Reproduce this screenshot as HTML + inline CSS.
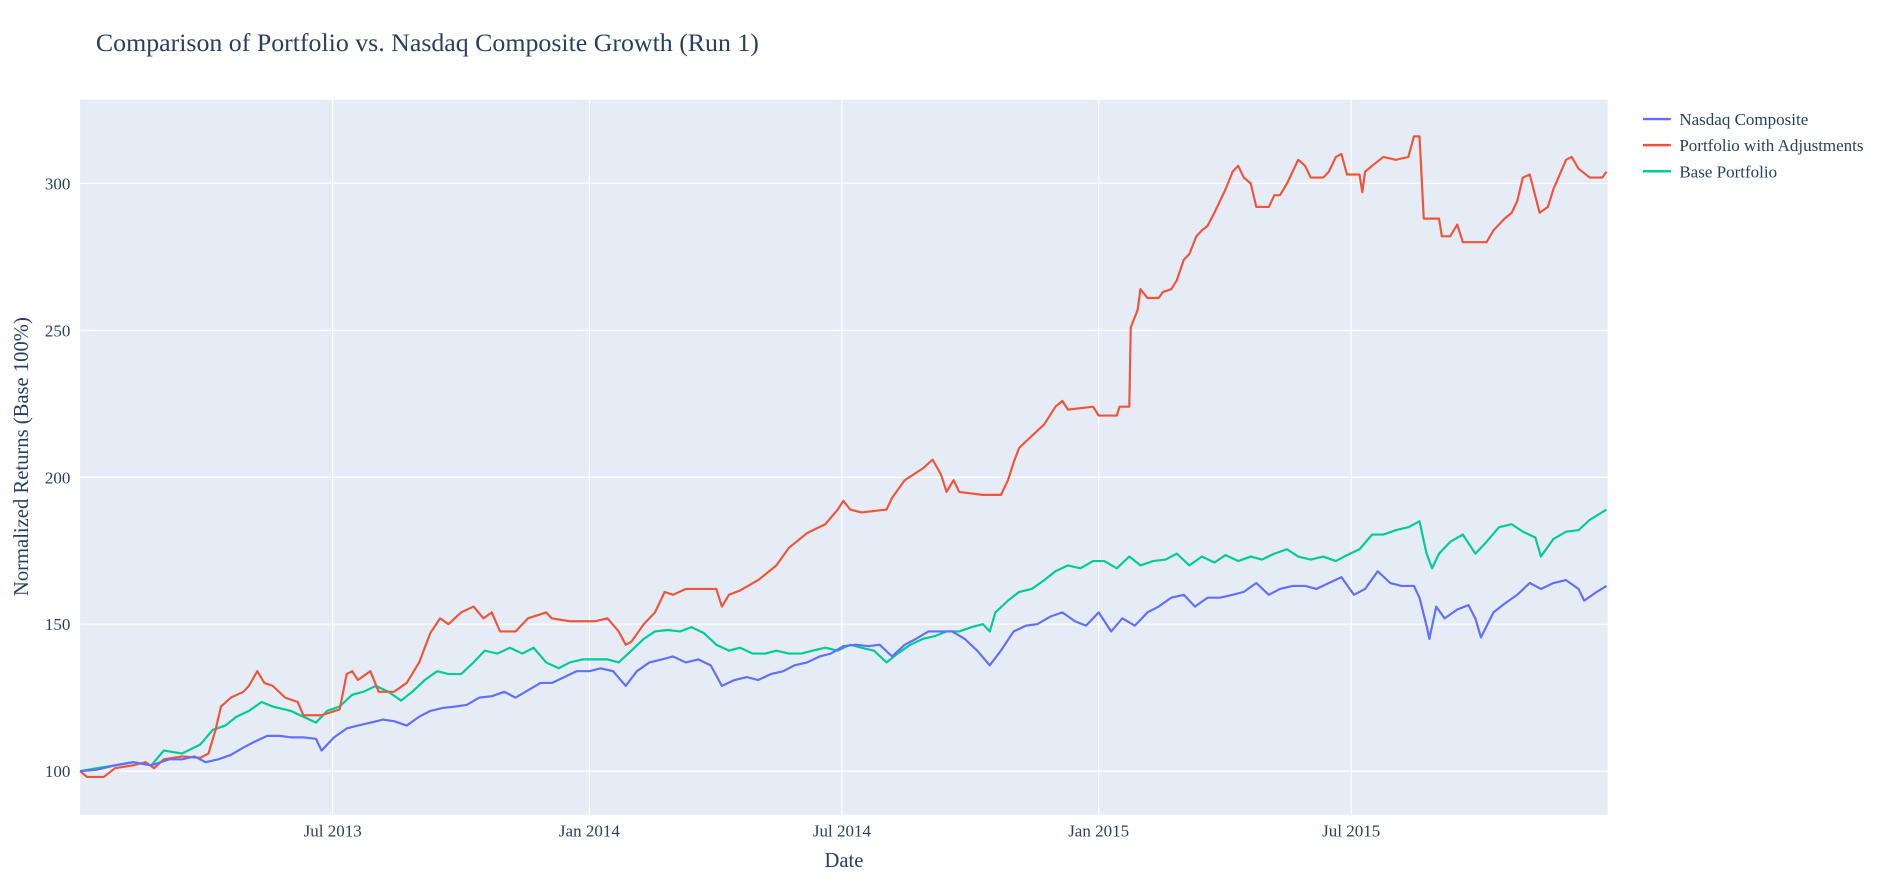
<!DOCTYPE html>
<html><head><meta charset="utf-8"><style>
html,body{margin:0;padding:0;background:#fff;}
svg{display:block;}
text{font-family:"Liberation Serif",serif;fill:#2a3f5f;}
</style></head><body>
<svg id="chart" width="1904" height="895" viewBox="0 0 1568 737" xmlns="http://www.w3.org/2000/svg">
<text x="79" y="42" font-size="21" textLength="546" lengthAdjust="spacingAndGlyphs">Comparison of Portfolio vs. Nasdaq Composite Growth (Run 1)</text>
<rect x="66" y="82" width="1258" height="589" fill="#e5ecf6"/>
<g id="grid"></g>
<g id="lines"></g>
<g id="ticks"></g>
<text x="695" y="714" font-size="17" text-anchor="middle">Date</text>
<text transform="translate(23,376) rotate(-90)" font-size="17" text-anchor="middle">Normalized Returns (Base 100%)</text>
<g id="legend"></g>
</svg>
<script>
const seriesNames = ["Nasdaq Composite","Portfolio with Adjustments","Base Portfolio"];
const seriesColors = ["#636efa","#ef553b","#00cc96"];
const yTicks = [100,150,200,250,300];
const xTickDays = [181,365,546,730,911];
const xTickLabels = ["Jul 2013","Jan 2014","Jul 2014","Jan 2015","Jul 2015"];
// day offsets since 2013-01-01 and values
const nasdaqDays = [0,12,25,38,51,64,73,82,90,99,108,117,125,134,143,151,160,169,173,182,191,199,208,217,225,234,243,251,260,269,277,286,295,304,312,321,330,338,347,356,365,373,382,391,399,408,417,425,434,443,452,460,469,478,486,495,504,512,521,530,538,547,556,565,573,582,591,599,608,617,625,634,643,652,660,669,678,686,695,704,713,721,730,739,747,756,765,773,782,791,799,808,817,826,834,843,852,860,869,878,886,895,904,913,921,930,939,947,956,960,965,967,972,978,987,995,1000,1004,1013,1021,1030,1039,1047,1056,1065,1074,1078,1087,1094];
const nasdaqVals = [100,100.5,102,103,102,104,104,105,103,104,105.5,108,110,112,112,111.5,111.5,111,107,111.5,114.5,115.5,116.5,117.5,117,115.5,118.5,120.5,121.5,122,122.5,125,125.5,127,125,127.5,130,130,132,134,134,135,134,129,134,137,138,139,137,138,136,129,131,132,131,133,134,136,137,139,140,142.5,143,142.5,143,139,143,145,147.5,147.5,147.5,145,141,136,141,147.5,149.5,150,152.5,154,151,149.5,154,147.5,152,149.5,154,156,159,160,156,159,159,160,161,164,160,162,163,163,162,164,166,160,162,168,164,163,163,159,149.5,145,156,152,155,156.5,152,145.5,154,157,160,164,162,164,165,162,158,161,163];
const adjDays = [0,5,17,25,38,47,53,60,73,86,92,97,101,108,117,121,127,132,138,147,156,160,173,186,191,195,199,208,214,225,234,243,251,258,264,273,282,289,295,301,312,321,334,338,351,369,378,386,391,395,404,412,419,425,434,443,456,460,465,473,486,499,508,521,534,543,547,552,560,578,582,591,604,611,617,621,626,630,647,660,665,669,673,682,691,699,704,708,726,730,743,745,752,753,758,760,765,773,776,782,786,791,795,800,804,808,813,817,821,826,830,834,839,843,852,856,860,865,869,873,878,882,891,895,900,904,908,917,919,921,926,934,943,952,956,960,963,974,976,982,987,991,1008,1013,1021,1026,1030,1034,1039,1046,1052,1056,1065,1069,1074,1082,1091,1094];
const adjVals = [100,98,98,101,102,103,101,104,105,104.5,106,114,122,125,127,129,134,130,129,125,123.5,119,119,121,133,134,131,134,127,127,130,137,147,152,150,154,156,152,154,147.5,147.5,152,154,152,151,151,152,147.5,143,144,150,154,161,160,162,162,162,156,160,161.5,165,170,176,181,184,189,192,189,188,189,193,199,203,206,201,195,199,195,194,194,199,205,210,214,218,224,226,223,224,221,221,224,224,251,257,264,261,261,263,264,267,274,276,282,284,285.5,290,294,298,304,306,302,300,292,292,296,296,300,304,308,306,302,302,304,309,310,303,303,297,304,306,309,308,309,316,316,288,288,282,282,286,280,280,284,288,290,294,302,303,290,292,298,308,309,305,302,302,304];
const baseDays = [0,12,25,38,51,60,73,86,95,104,112,121,130,138,151,160,169,177,186,195,203,212,221,230,238,247,256,264,273,282,290,299,308,317,325,334,343,351,360,369,378,386,395,404,412,421,430,438,447,456,465,473,482,491,499,508,517,525,534,543,552,560,569,578,586,595,604,613,621,630,639,647,652,656,665,673,682,691,699,708,717,726,734,743,752,760,769,778,786,795,804,813,821,830,839,847,856,865,873,882,891,900,908,917,926,934,943,952,960,965,969,974,982,991,1000,1008,1017,1026,1034,1043,1047,1056,1065,1074,1082,1094];
const baseVals = [100,101,102,103,102,107,106,109,114,115.5,118.5,120.5,123.5,122,120.5,118.5,116.5,120.5,122,126,127,129,127,124,127,131,134,133,133,137,141,140,142,140,142,137,135,137,138,138,138,137,141,145,147.5,148,147.5,149,147,143,141,142,140,140,141,140,140,141,142,141,143,142,141,137,140,143,145,146,147.5,147.5,149,150,147.5,154,158,161,162,165,168,170,169,171.5,171.5,169,173,170,171.5,172,174,170,173,171,173.5,171.5,173,172,174,175.5,173,172,173,171.5,173.5,175.5,180.5,180.5,182,183,185,174,169,174,178,180.5,174,178,183,184,181.5,179.5,173,179,181.5,182,185.5,189];

const NS="http://www.w3.org/2000/svg";
const xPx = d => 66 + d*1.149;
const yPx = v => 635 - (v-100)*2.42;
function mk(tag, attrs, parent){const e=document.createElementNS(NS,tag);for(const k in attrs)e.setAttribute(k,attrs[k]);parent.appendChild(e);return e;}
const grid=document.getElementById('grid'), ticks=document.getElementById('ticks'), lines=document.getElementById('lines'), legend=document.getElementById('legend');
yTicks.forEach(t=>{
  const g=mk('line',{x1:66,x2:1324,y1:yPx(t),y2:yPx(t),stroke:'#fff','stroke-width':1},grid);
  
  
  const tx=mk('text',{x:58,y:yPx(t)+5,'font-size':14,'text-anchor':'end'},ticks);
  tx.textContent=t;
  
  
});
xTickDays.forEach((d,i)=>{
  const g=mk('line',{x1:xPx(d),x2:xPx(d),y1:82,y2:671,stroke:'#fff','stroke-width':1},grid);
  
  
  const tx=mk('text',{x:xPx(d),y:689,'font-size':14,'text-anchor':'middle'},ticks);
  tx.textContent=xTickLabels[i];
  
  
});
const allDays=[nasdaqDays,adjDays,baseDays], allVals=[nasdaqVals,adjVals,baseVals];
const lineNames=['nasdaq-line','adjusted-portfolio-line','base-portfolio-line'];
[2,1,0].forEach(i=>{
  const pts=allDays[i].map((d,j)=>xPx(d).toFixed(1)+','+yPx(allVals[i][j]).toFixed(1)).join(' ');
  const p=mk('polyline',{points:pts,fill:'none',stroke:seriesColors[i],'stroke-width':1.8,'stroke-linejoin':'round'},lines);
  
  
});
seriesNames.forEach((n,i)=>{
  const y=98+i*21.5;
  const l=mk('line',{x1:1353,x2:1376,y1:y,y2:y,stroke:seriesColors[i],'stroke-width':2},legend);
  
  
  const t=mk('text',{x:1383,y:y+5,'font-size':14},legend);
  t.textContent=n;
  
  
});
</script>
</body></html>
